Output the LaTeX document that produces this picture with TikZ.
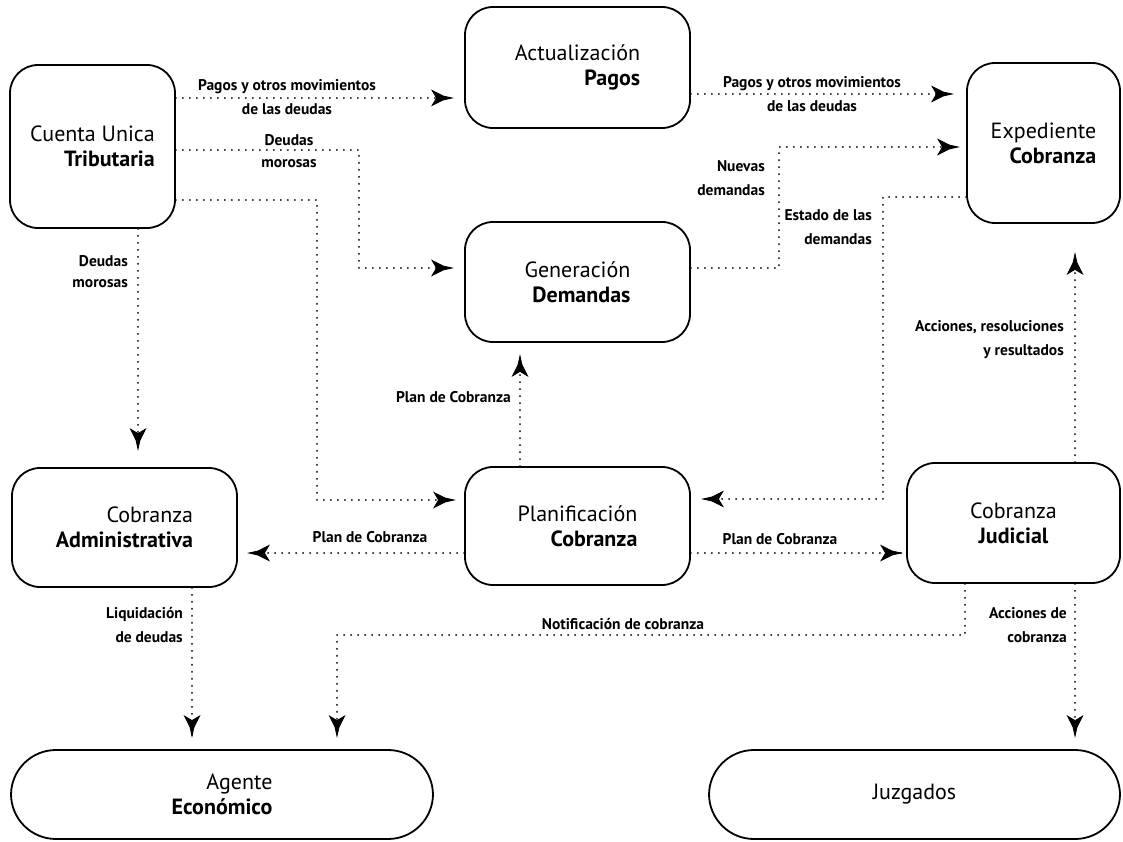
\documentclass[tikz,border=0pt]{standalone}
\usepackage{fontspec}
\setmainfont{PT Sans}
\usetikzlibrary{decorations.markings}
\begin{document}
\begin{tikzpicture}[x=1pt,y=-1pt,
  box/.style={draw, line width=1.8pt, rounded corners=28pt, inner sep=0pt,
    font=\fontsize{22}{25}\selectfont},
  term/.style={box, rounded corners=45pt},
  flow/.style={line width=2pt, line cap=round, dash pattern=on 0pt off 7pt,
    shorten >=#1,
    postaction={decorate, decoration={markings,
      mark=at position -#1 with {\filldraw[solid, line width=0.8pt, line join=miter] (0,0) -- (-9,2) -- (-20,7.5) -- (-15.5,0) -- (-20,-7.5) -- (-9,-2) -- cycle;}}}},
  flow/.default=12pt,
  lbl/.style={font=\bfseries\fontsize{15.5}{24}\selectfont, inner sep=0pt}
]
\useasboundingbox (0,0) rectangle (1123,842);

% boxes
\node[box, minimum width=165pt, minimum height=163pt, align=right] (cut) at (92.5,146.5) {Cuenta Unica\\\textbf{Tributaria}};
\node[box, minimum width=225pt, minimum height=121pt, align=right] (act) at (577.5,67.5) {Actualización\\\textbf{Pagos}};
\node[box, minimum width=225pt, minimum height=120pt, align=right] (gen) at (577.5,282) {Generación\\\textbf{Demandas}};
\node[box, minimum width=153pt, minimum height=160pt, align=right] (exp) at (1043.5,143) {Expediente\\\textbf{Cobranza}};
\node[box, minimum width=225pt, minimum height=119pt, align=right] (adm) at (124.5,527.5) {Cobranza\\\textbf{Administrativa}};
\node[box, minimum width=225pt, minimum height=118pt, align=right] (plan) at (577.5,526) {Planificación\\\textbf{Cobranza}};
\node[box, minimum width=213pt, minimum height=120pt, align=center] (jud) at (1013.5,523) {Cobranza\\\textbf{Judicial}};
\node[term, minimum width=422pt, minimum height=89pt, align=right] (age) at (222,794.5) {Agente\\\textbf{Económico}};
\node[term, minimum width=411pt, minimum height=89pt, align=center] (juz) at (914.5,794.5) {Juzgados};

% helper coordinates
\coordinate (y98) at (0,98);
\coordinate (y94) at (0,94);
\coordinate (a3) at (359,150);
\coordinate (b3) at (359,268);
\coordinate (a4) at (317,200);
\coordinate (b4) at (317,500);
\coordinate (x5) at (138,0);
\coordinate (a6) at (779,268);
\coordinate (b6) at (779,147);
\coordinate (a7) at (883,197);
\coordinate (b7) at (883,499);
\coordinate (x8) at (520,0);
\coordinate (y9) at (0,553);
\coordinate (x11) at (1075,0);
\coordinate (x12) at (192,0);
\coordinate (a13) at (965,635);
\coordinate (b13) at (337,635);

% connectors
\draw[flow=12pt] (cut.east |- y98) -- (act.west |- y98);
\draw[flow=14pt] (act.east |- y94) -- (exp.west |- y94);
\draw[flow=12pt] (cut.east |- a3) -- (a3) -- (b3) -- (gen.west |- b3);
\draw[flow=10pt] (cut.east |- a4) -- (a4) -- (b4) -- (plan.west |- b4);
\draw[flow=18pt] (cut.south -| x5) -- (adm.north -| x5);
\draw[flow=8pt] (gen.east |- a6) -- (a6) -- (b6) -- (exp.west |- b6);
\draw[flow=12pt] (exp.west |- a7) -- (a7) -- (b7) -- (plan.east |- b7);
\draw[flow=13pt] (plan.north -| x8) -- (gen.south -| x8);
\draw[flow=11pt] (plan.west |- y9) -- (adm.east |- y9);
\draw[flow=5pt] (plan.east |- y9) -- (jud.west |- y9);
\draw[flow=30pt] (jud.north -| x11) -- (exp.south -| x11);
\draw[flow=13pt] (adm.south -| x12) -- (age.north -| x12);
\draw[flow=13pt] (jud.south -| a13) -- (a13) -- (b13) -- (age.north -| b13);
\draw[flow=13pt] (jud.south -| x11) -- (juz.north -| x11);

% labels
\node[lbl, align=center] (l1) at (287,97) {Pagos y otros movimientos\\de las deudas};
\node[lbl, align=center] (l2) at (812,94) {Pagos y otros movimientos\\de las deudas};
\node[lbl, align=center, font=\bfseries\fontsize{15.5}{22}\selectfont] (l3) at (289,151) {Deudas\\morosas};
\node[lbl, align=right, anchor=east, font=\bfseries\fontsize{15.5}{21}\selectfont] (l4) at (128,272) {Deudas\\morosas};
\node[lbl, align=right, anchor=east] (l5) at (765,178) {Nuevas\\demandas};
\node[lbl, align=right, anchor=east] (l6) at (872,227) {Estado de las\\demandas};
\node[lbl, anchor=east] (l7) at (511,397) {Plan de Cobranza};
\node[lbl, align=right, anchor=east] (l8) at (1064,340) {Acciones, resoluciones\\y resultados};
\node[lbl] (l9) at (370,537) {Plan de Cobranza};
\node[lbl] (l10) at (780,539) {Plan de Cobranza};
\node[lbl] (l11) at (623,624) {Notificación de cobranza};
\node[lbl, align=right, anchor=east] (l12) at (183,625) {Liquidación\\de deudas};
\node[lbl, align=right, anchor=east] (l13) at (1067,625) {Acciones de\\cobranza};
\end{tikzpicture}
\end{document}
